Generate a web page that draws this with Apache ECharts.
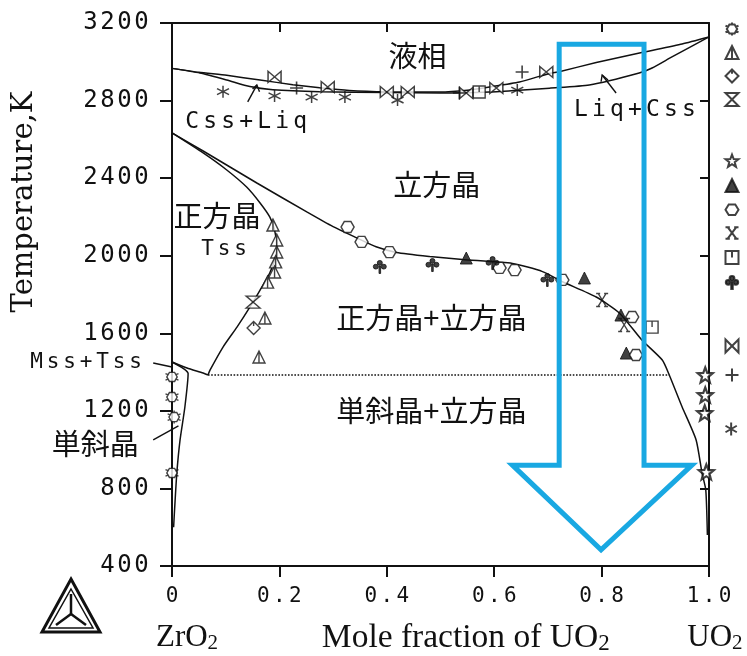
<!DOCTYPE html>
<html>
<head>
<meta charset="utf-8">
<script src="https://cdn.jsdelivr.net/npm/echarts@6/dist/echarts.min.js"></script>
<style>
html, body { margin: 0; padding: 0; background: #fff; }
#chart { width: 747px; height: 656px; }
</style>
</head>
<body>
<div id="chart"></div>
<script>
// ZrO2-UO2 pseudo-binary phase diagram

// axis ticks
const xTickLabels = ['0', '0.2', '0.4', '0.6', '0.8', '1.0'];
const yTickValues = [400, 800, 1200, 1600, 2000, 2400, 2800, 3200];

// phase boundaries: [mole fraction UO2, temperature K]
const liquidus = [[0, 2966], [0.05, 2946], [0.102, 2930], [0.164, 2906], [0.225, 2882], [0.275, 2866], [0.33, 2852], [0.40, 2845], [0.498, 2844], [0.55, 2853], [0.591, 2870], [0.647, 2896], [0.703, 2940], [0.721, 2949], [0.79, 2996], [0.879, 3050], [0.95, 3092], [1, 3128]];
const solidus = [[0, 2966], [0.052, 2942], [0.102, 2906], [0.145, 2872], [0.188, 2856], [0.275, 2846], [0.40, 2841], [0.498, 2839], [0.591, 2844], [0.647, 2853], [0.703, 2864], [0.777, 2880], [0.87, 2942], [0.894, 2968], [0.931, 3025], [1, 3128]];
const cubicSolvus = [[0, 2633], [0.058, 2540], [0.158, 2375], [0.251, 2226], [0.30, 2150], [0.344, 2092], [0.38, 2046], [0.418, 2017], [0.48, 1996], [0.541, 1980], [0.634, 1960], [0.690, 1918], [0.727, 1866], [0.790, 1787], [0.833, 1705], [0.875, 1565], [0.913, 1462], [0.926, 1385], [0.950, 1220], [0.976, 1050], [0.987, 880], [0.994, 792], [0.997, 560]];
const tetragonalSolvus = [[0, 2633], [0.058, 2530], [0.102, 2442], [0.139, 2354], [0.164, 2272], [0.182, 2200], [0.191, 2133], [0.195, 2045], [0.191, 1978], [0.182, 1911], [0.164, 1823], [0.145, 1735], [0.121, 1632], [0.095, 1529], [0.071, 1411], [0.067, 1385]];
const monoTetraBoundary = [[0, 1452], [0.028, 1421], [0.058, 1395], [0.067, 1385]];
const monoclinicSolvus = [[0, 1452], [0.030, 1392], [0.024, 1220], [0.015, 1050], [0.009, 880], [0.005, 700], [0.003, 600]];
const eutectoid = [[0.067, 1385], [0.926, 1385]];

// measured points, one list per symbol
const flowerPts = [[0, 1375], [0, 1271], [0.004, 1168], [0, 880]];
const triTickPts = [[0.188, 2158], [0.195, 2081], [0.195, 2019], [0.193, 1968], [0.191, 1916], [0.178, 1864], [0.173, 1679], [0.162, 1478]];
const diamondPts = [[0.152, 1627]];
const hourglassPts = [[0.151, 1761]];
const starPts = [[0.993, 1385], [0.993, 1282], [0.992, 1189], [0.995, 885]];
const triFilledPts = [[0.548, 1988], [0.768, 1885], [0.836, 1694], [0.846, 1498]];
const hexPts = [[0.327, 2148], [0.353, 2071], [0.405, 2019], [0.610, 1937], [0.638, 1926], [0.727, 1875], [0.857, 1684], [0.864, 1488]];
const crossPts = [[0.801, 1772], [0.842, 1643]];
const squarePts = [[0.894, 1632], [0.572, 2844]];
const clubPts = [[0.387, 1942], [0.485, 1952], [0.597, 1962], [0.699, 1875]];
const bowtiePts = [[0.191, 2922], [0.290, 2870], [0.400, 2844], [0.439, 2844], [0.548, 2839], [0.604, 2865], [0.697, 2947]];
const plusPts = [[0.232, 2865], [0.652, 2947], [0.535, 2839]];
const asteriskPts = [[0.095, 2846], [0.191, 2824], [0.260, 2818], [0.322, 2818], [0.420, 2803], [0.643, 2854]];

const INK = '#111';
const MONO = 'DejaVu Sans Mono';
const CJK = 'Noto Sans CJK JP';
const SERIF = 'Liberation Serif';

const sym = {
  flower: 'path://M6 3 L14 3 L18 10 L14 17 L6 17 L2 10 Z M10 0 L10 3 M10 17 L10 20 M0 5 L4 6.5 M16 6.5 L20 5 M0 15 L4 13.5 M16 13.5 L20 15',
  triTick: 'path://M10 1 L19 19 L1 19 Z M10 1 L10 19',
  diamond: 'path://M10 1 L19 10 L10 19 L1 10 Z M10 1 L10 7',
  hourglass: 'path://M2 2 L18 2 L2 18 L18 18 Z',
  star: 'path://M10 0 L12.47 6.6 L19.51 6.91 L14 11.3 L15.88 18.09 L10 14.2 L4.12 18.09 L6 11.3 L0.49 6.91 L7.53 6.6 Z',
  triFilled: 'path://M10 1 L19 19 L1 19 Z',
  hexagon: 'path://M5 2 L15 2 L20 10 L15 18 L5 18 L0 10 Z',
  cross: 'path://M4 2 L16 18 M16 2 L4 18 M1 2 L7 2 M13 2 L19 2 M1 18 L7 18 M13 18 L19 18',
  square: 'path://M2 2 L18 2 L18 18 L2 18 Z M10 2 L10 10',
  club: 'path://M13.2 5 A3.2 3.2 0 1 1 6.8 5 A3.2 3.2 0 1 1 13.2 5 Z M8.2 10 A3.2 3.2 0 1 1 1.8 10 A3.2 3.2 0 1 1 8.2 10 Z M18.2 10 A3.2 3.2 0 1 1 11.8 10 A3.2 3.2 0 1 1 18.2 10 Z M9 9 L11 9 L11 19 L9 19 Z',
  bowtie: 'path://M2 2 L2 18 L18 2 L18 18 Z',
  plus: 'path://M10 1 L10 19 M1 10 L19 10',
  asterisk: 'path://M10 0 L10 20 M1.3 5 L18.7 15 M1.3 15 L18.7 5'
};

// each character in a fixed-width cell, like the plotter lettering
function spaced(s, key) {
  return s.split('').map(c => '{' + key + '|' + c + '}').join('');
}

const hollow = { color: '#fff', borderColor: INK, borderWidth: 1.4 };
const solid = { color: INK, borderColor: INK, borderWidth: 1 };

function curve(data, dotted) {
  return {
    type: 'line', data: data, showSymbol: false, symbol: 'none', smooth: dotted ? false : 0.2,
    lineStyle: { color: INK, width: dotted ? 1.6 : 1.5, type: dotted ? 'dotted' : 'solid' },
    silent: true, z: 3
  };
}
function points(name, data, size, style) {
  return {
    type: 'scatter', name: name, data: data, symbol: sym[name], symbolSize: size,
    itemStyle: style, z: 5, silent: true
  };
}

const legendGroups = [
  { top: 21.5, gap: 8.5, names: ['flower', 'triTick', 'diamond', 'hourglass'] },
  { top: 153.5, gap: 10.2, names: ['star', 'triFilled', 'hexagon', 'cross', 'square', 'club'] },
  { top: 338.5, gap: 14, names: ['bowtie', 'plus'] },
  { top: 421.5, gap: 10, names: ['asterisk'] }
];

const chart = echarts.init(document.getElementById('chart'), null, { renderer: 'canvas' });

const option = {
  animation: false,
  backgroundColor: '#fff',
  grid: { left: 172, right: 38, top: 23, bottom: 90 },
  xAxis: [
    {
      type: 'value', min: 0, max: 1, interval: 0.2, position: 'bottom',
      axisLine: { onZero: false, lineStyle: { color: INK, width: 2 } },
      axisTick: { inside: false, length: 11, lineStyle: { color: INK, width: 2 } },
      splitLine: { show: false },
      axisLabel: {
        margin: 20, color: INK,
        formatter: v => spaced(xTickLabels[Math.round(v / 0.2)], 'd'),
        rich: { d: { fontFamily: MONO, fontSize: 21, width: 16, align: 'center', color: INK } }
      }
    },
    {
      type: 'value', min: 0, max: 1, interval: 0.2, position: 'top',
      axisLine: { onZero: false, lineStyle: { color: INK, width: 2 } },
      axisTick: { inside: true, length: 9, lineStyle: { color: INK, width: 2 } },
      axisLabel: { show: false }, splitLine: { show: false }
    }
  ],
  yAxis: [
    {
      type: 'value', min: 400, max: 3200, interval: 400, position: 'left',
      axisLine: { onZero: false, lineStyle: { color: INK, width: 2 } },
      axisTick: { inside: false, length: 12, lineStyle: { color: INK, width: 2 } },
      splitLine: { show: false },
      axisLabel: {
        margin: 22, color: INK,
        formatter: v => spaced(String(yTickValues[yTickValues.indexOf(v)]), 'd'),
        rich: { d: { fontFamily: MONO, fontSize: 24, width: 17, align: 'center', color: INK } }
      }
    },
    {
      type: 'value', min: 400, max: 3200, interval: 400, position: 'right',
      axisLine: { onZero: false, lineStyle: { color: INK, width: 2 } },
      axisTick: { inside: true, length: 9, lineStyle: { color: INK, width: 2 } },
      axisLabel: { show: false }, splitLine: { show: false }
    }
  ],
  legend: legendGroups.map(gr => ({
    orient: 'vertical', left: 724.5, top: gr.top, itemWidth: 13, itemHeight: 13, itemGap: gr.gap,
    padding: 0, selectedMode: false, formatter: () => '', textStyle: { fontSize: 10 },
    data: gr.names.map(n => ({ name: n, icon: sym[n] }))
  })),
  series: [
    curve(liquidus), curve(solidus), curve(cubicSolvus), curve(tetragonalSolvus),
    curve(monoTetraBoundary), curve(monoclinicSolvus), curve(eutectoid, true),
    points('flower', flowerPts, 13, hollow),
    points('triTick', triTickPts, [12, 12], hollow),
    points('diamond', diamondPts, 13, hollow),
    points('hourglass', hourglassPts, [14, 12], hollow),
    points('star', starPts, 15, { color: '#fff', borderColor: INK, borderWidth: 2.2 }),
    points('triFilled', triFilledPts, [12, 12], solid),
    points('hexagon', hexPts, [13, 11], hollow),
    points('cross', crossPts, [12, 13], hollow),
    points('square', squarePts, 12, hollow),
    points('club', clubPts, [13, 13], solid),
    points('bowtie', bowtiePts, [13, 11], hollow),
    points('plus', plusPts, 13, { color: '#fff', borderColor: INK, borderWidth: 1.6 }),
    points('asterisk', asteriskPts, 12, { color: '#fff', borderColor: INK, borderWidth: 1.5 })
  ]
};

chart.setOption(option);

// annotations placed in data space
const P = (x, y) => chart.convertToPixel({ xAxisIndex: 0, yAxisIndex: 0 }, [x, y]);
const g = [];

function text(x, y, str, style) {
  const p = P(x, y);
  g.push({
    type: 'text', x: p[0], y: p[1], z: 20, silent: true,
    style: Object.assign({ text: str, fill: INK, align: 'center', verticalAlign: 'middle', textAlign: 'center', textVerticalAlign: 'middle' }, style)
  });
}
function seg(pts, width) {
  g.push({
    type: 'polyline', z: 20, silent: true,
    shape: { points: pts.map(q => P(q[0], q[1])) },
    style: { stroke: INK, lineWidth: width || 1.4, fill: null }
  });
}

const cjk = { fontFamily: CJK, fontSize: 29 };
text(0.457, 3030, '液相', cjk);
text(0.493, 2365, '立方晶', cjk);
text(0.084, 2205, '正方晶', cjk);
text(0.483, 1679, '正方晶+立方晶', cjk);
text(0.483, 1199, '単斜晶+立方晶', cjk);
text(-0.143, 1029, '単斜晶', cjk);

const monoRich = { m: { fontFamily: MONO, fontSize: 23, width: 18, align: 'center', color: INK } };
const monoRichSmall = { m: { fontFamily: MONO, fontSize: 21, width: 16.5, align: 'center', color: INK } };
text(0.097, 2030, spaced('Tss', 'm'), { rich: monoRichSmall });
text(0.138, 2690, spaced('Css+Liq', 'm'), { rich: monoRich });
text(0.862, 2751, spaced('Liq+Css', 'm'), { rich: monoRich });
text(-0.160, 1447, spaced('Mss+Tss', 'm'), { rich: monoRichSmall });

// leader lines
seg([[0.158, 2880], [0.141, 2793]]);
seg([[0.163, 2846], [0.158, 2880], [0.150, 2860]]);
seg([[0.801, 2932], [0.827, 2839]]);
seg([[0.799, 2897], [0.801, 2932], [0.812, 2906]]);
seg([[-0.035, 1447], [0, 1426]]);
seg([[-0.035, 1050], [0.012, 1123]]);

// axis titles with subscript 2
function titleRich(size) {
  return {
    t: { fontFamily: SERIF, fontSize: size, lineHeight: size + 3, verticalAlign: 'bottom', color: INK },
    s: { fontFamily: SERIF, fontSize: Math.round(size * 0.68), lineHeight: Math.round(size * 0.78), verticalAlign: 'bottom', color: INK }
  };
}
text(0.547, 35, '{t|Mole fraction of UO}{s|2}', { rich: titleRich(33.5) });
text(0.028, 35, '{t|ZrO}{s|2}', { rich: titleRich(31) });
text(1.011, 35, '{t|UO}{s|2}', { rich: titleRich(31) });

const yTitle = P(-0.275, 2277);
g.push({
  type: 'text', x: yTitle[0], y: yTitle[1], rotation: Math.PI / 2, z: 20, silent: true,
  style: { text: 'Temperature,K', fill: INK, fontFamily: 'DejaVu Serif', fontSize: 29,
    align: 'center', verticalAlign: 'middle', textAlign: 'center', textVerticalAlign: 'middle' }
});

// highlighted composition arrow
const arrow = [[0.721, 3091], [0.879, 3091], [0.879, 920], [0.968, 920], [0.799, 483], [0.634, 920], [0.721, 920]];
g.push({
  type: 'polygon', z: 30, silent: true,
  shape: { points: arrow.map(q => P(q[0], q[1])) },
  style: { stroke: '#19a8e2', lineWidth: 5, fill: null, lineJoin: 'miter' }
});

// program logo
g.push({
  type: 'group', x: 0, y: 0, z: 20, silent: true,
  children: [
    { type: 'polygon', shape: { points: [[71, 579], [100, 632], [42, 632]] }, style: { stroke: INK, lineWidth: 3, fill: null } },
    { type: 'polygon', shape: { points: [[71, 589], [93, 628], [49, 628]] }, style: { stroke: INK, lineWidth: 1.5, fill: null } },
    { type: 'polyline', shape: { points: [[71, 594], [71, 614]] }, style: { stroke: INK, lineWidth: 2.5, fill: null } },
    { type: 'polyline', shape: { points: [[71, 614], [56, 625]] }, style: { stroke: INK, lineWidth: 2.5, fill: null } },
    { type: 'polyline', shape: { points: [[71, 614], [86, 625]] }, style: { stroke: INK, lineWidth: 2.5, fill: null } }
  ]
});

chart.setOption({ graphic: g });
</script>
</body>
</html>
